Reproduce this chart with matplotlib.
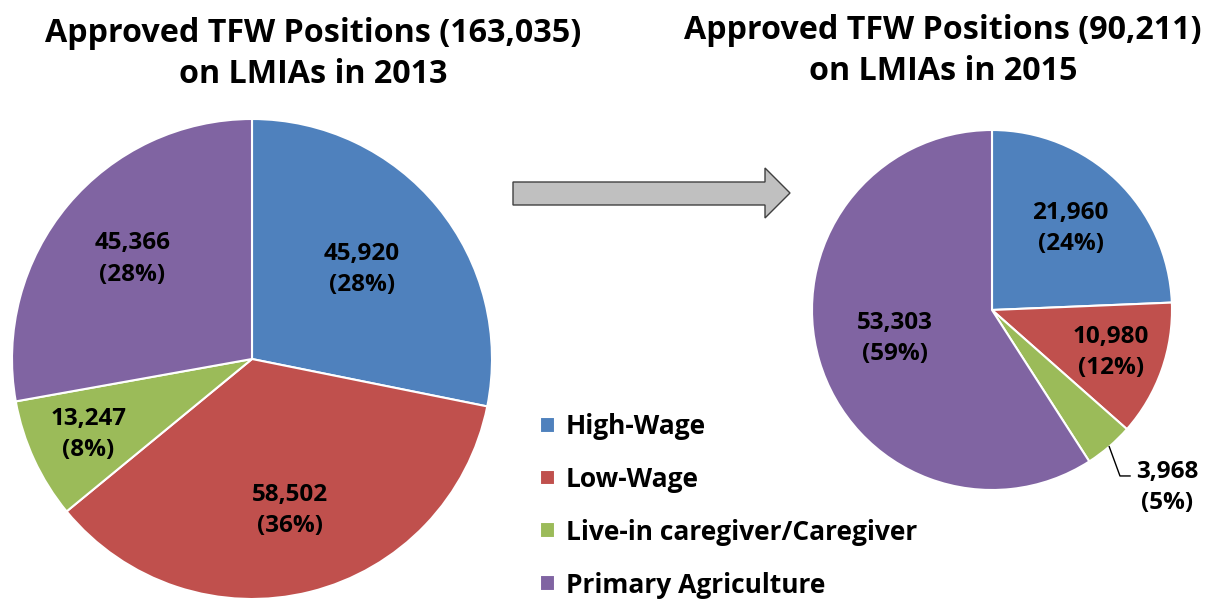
import numpy as np
import matplotlib
matplotlib.use('Agg')
import matplotlib.pyplot as plt
from matplotlib.patches import Polygon

plt.rcParams['font.family'] = ['Open Sans', 'DejaVu Sans']
plt.rcParams['font.weight'] = 'bold'

categories = ['High-Wage', 'Low-Wage', 'Live-in caregiver/Caregiver', 'Primary Agriculture']
colors = ['#4F81BD', '#C0504D', '#9BBB59', '#8064A2']

values_2013 = [45920, 58502, 13247, 45366]
pct_2013 = ['28%', '36%', '8%', '28%']
total_2013 = 163035

values_2015 = [21960, 10980, 3968, 53303]
pct_2015 = ['24%', '12%', '5%', '59%']
total_2015 = 90211

W, H = 1208, 599
fig = plt.figure(figsize=(W / 100, H / 100), dpi=100)

# overlay in pixel coords for arrow / titles
bg = fig.add_axes([0, 0, 1, 1])
bg.set_xlim(0, W)
bg.set_ylim(H, 0)
bg.axis('off')


def px_axes(x0, y0, x1, y1):
    return fig.add_axes([x0 / W, 1 - y1 / H, (x1 - x0) / W, (y1 - y0) / H])


def draw_pie(ax, values, pcts, dists):
    wedges, _ = ax.pie(values, colors=colors, startangle=90, counterclock=False,
                       wedgeprops=dict(edgecolor='white', linewidth=1.5))
    ax.set_xlim(-1, 1)
    ax.set_ylim(-1, 1)
    ax.axis('off')
    for w, v, p, d in zip(wedges, values, pcts, dists):
        if d is None:
            continue
        ang = np.deg2rad((w.theta1 + w.theta2) / 2)
        ax.text(d * np.cos(ang), d * np.sin(ang), f'{v:,}\n({p})', ha='center', va='center',
                fontsize=17.5, fontweight='bold', linespacing=1.4)
    return wedges


ax1 = px_axes(12, 119, 492, 599)
wedges = draw_pie(ax1, values_2013, pct_2013, [0.59, 0.65, 0.75, 0.65])

ax2 = px_axes(812, 130, 1172, 490)
w2 = draw_pie(ax2, values_2015, pct_2015, [0.63, 0.70, None, 0.56])

# leader line for the small green slice
g = w2[2]
ang = np.deg2rad((g.theta1 + g.theta2) / 2)
ax2.plot([np.cos(ang), 0.711, 0.767], [np.sin(ang), -0.922, -0.922], color='black', lw=1, clip_on=False)
ax2.text(0.972, -0.985, f'{values_2015[2]:,}\n({pct_2015[2]})', ha='center', va='center',
         fontsize=17.5, fontweight='bold', linespacing=1.4, clip_on=False)

# titles
bg.text(313, 54, f'Approved TFW Positions ({total_2013:,})\non LMIAs in 2013', ha='center', va='center',
        fontsize=23.2, fontweight='bold', linespacing=1.35)
bg.text(943, 51, f'Approved TFW Positions ({total_2015:,})\non LMIAs in 2015', ha='center', va='center',
        fontsize=23.2, fontweight='bold', linespacing=1.35)

# arrow
arrow = Polygon([(513, 182), (765, 182), (765, 168), (790, 193), (765, 218), (765, 205), (513, 205)],
                closed=True, facecolor='#C0C0C0', edgecolor='#404040', lw=1)
bg.add_patch(arrow)

fig.legend(wedges, categories, loc='upper left', bbox_to_anchor=(540 / W, 1 - 413 / H),
           frameon=False, fontsize=19, handlelength=0.55, handleheight=0.55, handletextpad=0.42,
           labelspacing=0.98, borderaxespad=0, borderpad=0)

fig.savefig('out.png', dpi=100)
